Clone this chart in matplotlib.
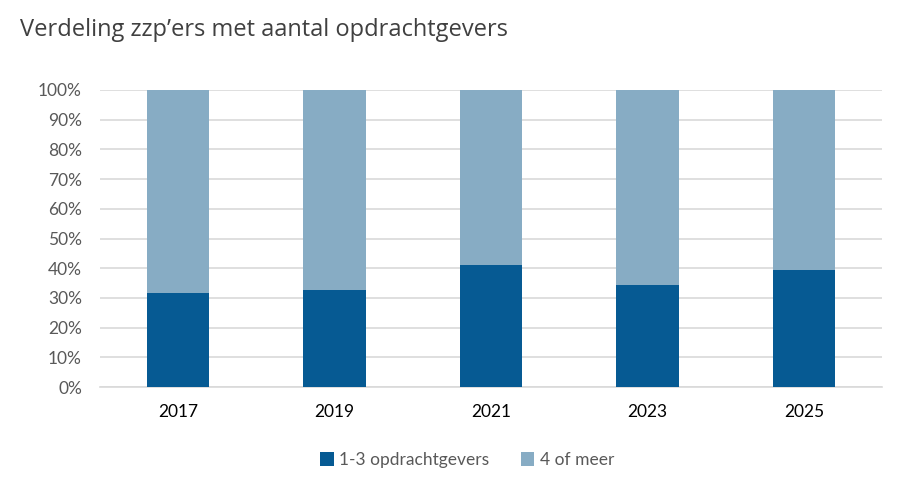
import numpy as np
import matplotlib.pyplot as plt
from matplotlib.ticker import FuncFormatter

years = ['2017', '2019', '2021', '2023', '2025']
few_clients = [31.5, 32.6, 41.0, 34.4, 39.5]
many_clients = [100 - v for v in few_clients]

dark = '#065a93'
light = '#87acc4'

plt.rcParams['font.family'] = ['Lato', 'DejaVu Sans']

fig = plt.figure(figsize=(9, 4.93), dpi=100)
ax = fig.add_axes([100 / 900, 1 - 387 / 493, 782 / 900, 297 / 493])

x = np.arange(len(years))
ax.bar(x, few_clients, width=0.4, color=dark, label='1-3 opdrachtgevers', zorder=3)
ax.bar(x, many_clients, width=0.4, bottom=few_clients, color=light,
       label='4 of meer', zorder=3)

ax.set_xlim(-0.5, len(years) - 0.5)
ax.set_ylim(0, 100)
ax.set_yticks(np.arange(0, 101, 10))
ax.yaxis.set_major_formatter(FuncFormatter(lambda v, p: f'{int(v)}%'))
ax.set_xticks(x)
ax.set_xticklabels(years)
ax.grid(axis='y', color='#d9d9d9', linewidth=1.2, zorder=0)
for s in ['top', 'right', 'left']:
    ax.spines[s].set_visible(False)
ax.spines['bottom'].set_color('#d9d9d9')
ax.spines['bottom'].set_linewidth(1.2)
ax.tick_params(axis='both', length=0, labelsize=12.5, colors='#595959')
ax.tick_params(axis='x', pad=12, labelcolor='#000000')
ax.tick_params(axis='y', pad=13)

fig.text(20 / 900, 1 - 30 / 493, 'Verdeling zzp\u2019ers met aantal opdrachtgevers',
         fontsize=17, color='#404040', va='center', ha='left',
         family=['Open Sans', 'DejaVu Sans'])

fig.legend(loc='center', bbox_to_anchor=(467 / 900, 1 - 460 / 493), ncol=2,
           frameon=False, fontsize=12.5, handlelength=0.8, handleheight=0.8,
           handletextpad=0.3, columnspacing=1.8, labelcolor='#595959')

fig.savefig('out.png', dpi=100)
